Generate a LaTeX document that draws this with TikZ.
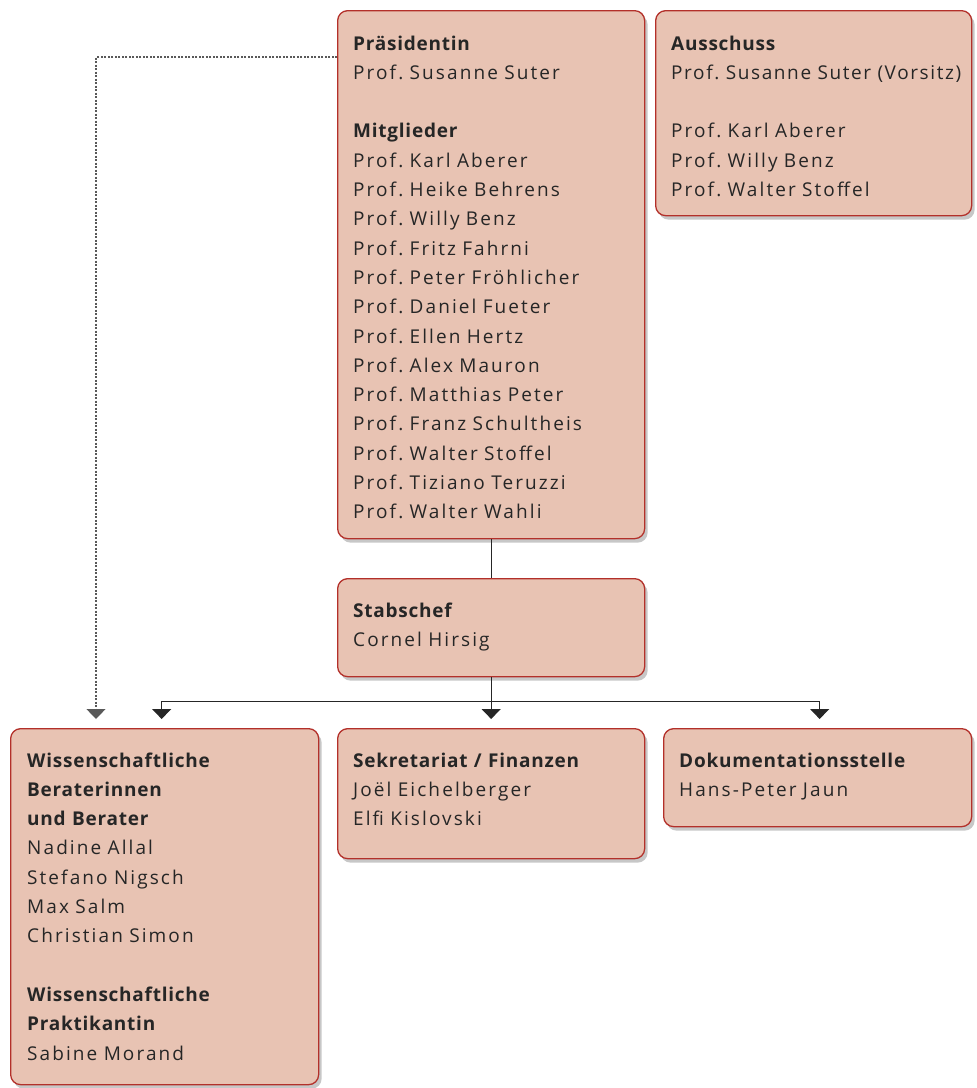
\documentclass[tikz,border=0pt]{standalone}
\usepackage{fontspec}
\setmainfont{Open Sans}[LetterSpace=11,BoldFeatures={LetterSpace=4}]
\usetikzlibrary{positioning}
\usetikzlibrary{calc}
\usetikzlibrary{arrows.meta}
\usetikzlibrary{shadows}
\definecolor{boxfill}{HTML}{E8C3B3}
\definecolor{boxline}{HTML}{B3302A}
\definecolor{ink}{HTML}{262626}
\frenchspacing

\begin{document}
\begin{tikzpicture}[x=1pt, y=-1pt,
		box/.style={rectangle, rounded corners=10pt, draw=boxline, line width=1.3pt, fill=boxfill, anchor=north west, inner sep=0pt,
			drop shadow={shadow xshift=3pt, shadow yshift=-4pt, fill=black, opacity=0.22}},
		txt/.style={anchor=base west, inner sep=0pt, text width=300pt, align=left, text=ink, font=\fontsize{19}{29.3}\selectfont},
		line/.style={draw=ink, line width=1.2pt},
		arrow/.style={line, -{Triangle[width=19pt, length=10pt]}, shorten >=9pt},
		dotline/.style={draw=black!65, line width=1.2pt, dash pattern=on 2pt off 1.5pt, -{Triangle[width=19pt, length=10pt]}, shorten >=9pt}
	]
		\useasboundingbox (0,0) rectangle (977,1088);

		% boxes
		\node[box, minimum width=307pt, minimum height=528pt] (praes) at (337,10) {};
		\node[box, minimum width=316pt, minimum height=205pt] (aussch) at (655,10) {};
		\node[box, minimum width=307pt, minimum height=98pt] (stab) at (337,578) {};
		\node[box, minimum width=308pt, minimum height=356pt] (wiss) at (10,728) {};
		\node[box, minimum width=307pt, minimum height=130pt] (sekr) at (337,728) {};
		\node[box, minimum width=308pt, minimum height=98pt] (doku) at (663,728) {};

		% texts
		\node[txt] (praes-t) at ($(praes.north west)+(16,40)$) {\textbf{Präsidentin}\\
			Prof. Susanne Suter\\[\baselineskip]
			\textbf{Mitglieder}\\
			Prof. Karl Aberer\\ Prof. Heike Behrens\\ Prof. Willy Benz\\ Prof. Fritz Fahrni\\
			Prof. Peter Fröhlicher\\ Prof. Daniel Fueter\\ Prof. Ellen Hertz\\ Prof. Alex Mauron\\
			Prof. Matthias Peter\\ Prof. Franz Schultheis\\ Prof. Walter Stoffel\\
			Prof. Tiziano Teruzzi\\ Prof. Walter Wahli};
		\node[txt] (aussch-t) at ($(aussch.north west)+(16,40)$) {\textbf{Ausschuss}\\
			{\addfontfeature{LetterSpace=8.5}Prof. Susanne Suter (Vorsitz)}\\[\baselineskip]
			Prof. Karl Aberer\\ Prof. Willy Benz\\ Prof. Walter Stoffel};
		\node[txt] (stab-t) at ($(stab.north west)+(16,39)$) {\textbf{Stabschef}\\ Cornel Hirsig};
		\node[txt] (wiss-t) at ($(wiss.north west)+(17,39)$) {\textbf{Wissenschaftliche}\\
			\textbf{Beraterinnen}\\ \textbf{und Berater}\\
			Nadine Allal\\ Stefano Nigsch\\ Max Salm\\ Christian Simon\\[\baselineskip]
			\textbf{Wissenschaftliche}\\ \textbf{Praktikantin}\\ Sabine Morand};
		\node[txt] (sekr-t) at ($(sekr.north west)+(16,39)$) {\textbf{Sekretariat / Finanzen}\\
			Joël Eichelberger\\ Elfi Kislovski};
		\node[txt] (doku-t) at ($(doku.north west)+(16,39)$) {\textbf{Dokumentationsstelle}\\
			Hans-Peter Jaun};

		% connectors
		\coordinate (bus) at ($(stab.south)+(0,24)$);
		\coordinate (dot) at ($(praes.north west)+(0,47)$);
		\draw[line] (praes) -- (stab);
		\draw[arrow] (stab) -- (sekr);
		\draw[arrow] (bus) -| ($(wiss.north)+(-3,0)$);
		\draw[arrow] (bus) -| ($(doku.north)+(2,0)$);
		\draw[dotline] (dot) -| ($(wiss.north west)+(86,0)$);
	\end{tikzpicture}
\end{document}
